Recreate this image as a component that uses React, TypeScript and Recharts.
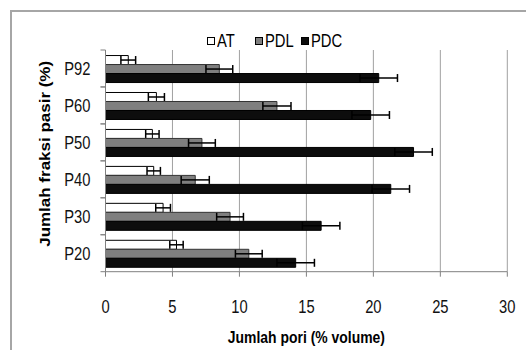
import React from 'react';
import { BarChart, Bar, XAxis, YAxis, CartesianGrid, Legend, ErrorBar, Label } from 'recharts';

const categories = ['P20', 'P30', 'P40', 'P50', 'P60', 'P92'];
const atValues = [5.3, 4.3, 3.6, 3.5, 3.8, 1.7];
const atErrors = [0.5, 0.55, 0.5, 0.5, 0.6, 0.55];
const pdlValues = [10.7, 9.3, 6.7, 7.2, 12.8, 8.5];
const pdlErrors = [1.0, 1.0, 1.05, 1.0, 1.05, 1.0];
const pdcValues = [14.2, 16.1, 21.3, 23.0, 19.8, 20.4];
const pdcErrors = [1.4, 1.4, 1.4, 1.4, 1.4, 1.4];
const seriesNames = ['AT', 'PDL', 'PDC'];
const xTicks = [0, 5, 10, 15, 20, 25, 30];

const data = categories.map((cat, i) => ({
  cat,
  at: atValues[i],
  atErr: atErrors[i],
  pdl: pdlValues[i],
  pdlErr: pdlErrors[i],
  pdc: pdcValues[i],
  pdcErr: pdcErrors[i],
}));

// the source image is squeezed horizontally, so text is narrowed a bit
const SQUEEZE = 0.82;
const FONT = "'Liberation Sans', Arial, sans-serif";
const Y_TICK_MARGIN = 15;

const CHART_H = 350;
const MARGIN = { top: 30, right: 18.7, bottom: 4, left: 10 };
const LEGEND_H = 20;
const X_AXIS_H = 74.3;
const PLOT_H = CHART_H - MARGIN.top - MARGIN.bottom - LEGEND_H - X_AXIS_H;

const legendWidths = [48, 46, 50];

const renderLegend = (props: any) => {
  const items = [...props.payload].sort(
    (a: any, b: any) => seriesNames.indexOf(a.value) - seriesNames.indexOf(b.value)
  );
  return (
    <div style={{ display: 'flex', alignItems: 'center', fontSize: 18, color: '#000', lineHeight: '20px' }}>
      {items.map((entry: any, i: number) => (
        <span key={entry.value} style={{ display: 'flex', alignItems: 'center', width: legendWidths[i] }}>
          <span
            style={{
              display: 'inline-block',
              width: 6,
              height: 6,
              background: entry.color,
              border: '1px solid #000',
              marginRight: 2,
              flex: 'none',
            }}
          />
          <span style={{ display: 'inline-block', transform: `scaleX(${SQUEEZE})`, transformOrigin: 'left center' }}>
            {entry.value}
          </span>
        </span>
      ))}
    </div>
  );
};

const XTick = (props: any) => {
  const { x, y, payload } = props;
  return (
    <text
      transform={`translate(${x},${y}) scale(${SQUEEZE},1)`}
      textAnchor="middle"
      dy="0.71em"
      fontSize={18}
      fill="#111"
    >
      {payload.value}
    </text>
  );
};

// category label plus the small tick marks on the band edges
const YTick = (props: any) => {
  const { x, y, payload } = props;
  const half = PLOT_H / categories.length / 2;
  const axisX = Number(x) + Y_TICK_MARGIN;
  const cy = Number(y);
  return (
    <g>
      <line x1={axisX - 5} x2={axisX} y1={cy - half} y2={cy - half} stroke="#808080" strokeWidth={1} />
      <line x1={axisX - 5} x2={axisX} y1={cy + half} y2={cy + half} stroke="#808080" strokeWidth={1} />
      <text
        transform={`translate(${x},${y}) scale(${SQUEEZE},1)`}
        textAnchor="end"
        dominantBaseline="central"
        fontSize={18}
        fill="#111"
      >
        {payload.value}
      </text>
    </g>
  );
};

const XTitle = (props: any) => {
  const { viewBox } = props;
  const cx = viewBox.x + viewBox.width / 2;
  const cy = viewBox.y + viewBox.height - 3;
  return (
    <text
      transform={`translate(${cx},${cy}) scale(${SQUEEZE},1)`}
      textAnchor="middle"
      fontWeight="bold"
      fontSize={17}
      fill="#000"
    >
      Jumlah pori (% volume)
    </text>
  );
};

const YTitle = (props: any) => {
  const { viewBox } = props;
  const cx = viewBox.x + 35;
  const cy = viewBox.y + viewBox.height / 2 - 7;
  return (
    <text
      transform={`translate(${cx},${cy}) scale(${SQUEEZE},1) rotate(-90)`}
      textAnchor="middle"
      dominantBaseline="central"
      fontWeight="bold"
      fontSize={17}
      fill="#000"
    >
      Jumlah fraksi pasir (%)
    </text>
  );
};

export default function App() {
  return (
    <div
      style={{
        position: 'absolute',
        left: 0,
        top: 0,
        width: 526,
        height: 350,
        overflow: 'hidden',
        background: '#fff',
        fontFamily: FONT,
      }}
    >
      <div
        style={{
          position: 'absolute',
          left: 10,
          top: 10,
          width: 700,
          height: 500,
          borderLeft: '2px solid #a6a6a6',
          borderTop: '2px solid #a6a6a6',
        }}
      />
      <div style={{ position: 'absolute', left: 0, top: 0 }}>
        <BarChart
          width={526}
          height={CHART_H}
          data={data}
          layout="vertical"
          margin={MARGIN}
          barCategoryGap="15%"
          barGap={0}
        >
          <CartesianGrid horizontal={false} stroke="#a0a0a0" />
          <XAxis
            type="number"
            domain={[0, 30]}
            ticks={xTicks}
            height={X_AXIS_H}
            stroke="#808080"
            tickSize={5}
            tickMargin={24}
            tick={<XTick />}
          >
            <Label content={XTitle} />
          </XAxis>
          <YAxis
            type="category"
            dataKey="cat"
            reversed
            width={95.5}
            stroke="#808080"
            tickLine={false}
            tickSize={0}
            tickMargin={Y_TICK_MARGIN}
            tick={YTick}
          >
            <Label content={YTitle} />
          </YAxis>
          <Legend
            verticalAlign="top"
            height={LEGEND_H}
            content={renderLegend}
            wrapperStyle={{ top: 31, left: 207, width: 'auto' }}
          />
          <Bar dataKey="at" name="AT" fill="#ffffff" stroke="#000" strokeWidth={1} isAnimationActive={false}>
            <ErrorBar dataKey="atErr" direction="x" width={4} stroke="#000" strokeWidth={1.5} />
          </Bar>
          <Bar dataKey="pdl" name="PDL" fill="#7f7f7f" stroke="#333" strokeWidth={1} isAnimationActive={false}>
            <ErrorBar dataKey="pdlErr" direction="x" width={4} stroke="#000" strokeWidth={1.5} />
          </Bar>
          <Bar dataKey="pdc" name="PDC" fill="#0d0d0d" stroke="#000" strokeWidth={1} isAnimationActive={false}>
            <ErrorBar dataKey="pdcErr" direction="x" width={4} stroke="#000" strokeWidth={1.5} />
          </Bar>
        </BarChart>
      </div>
    </div>
  );
}
